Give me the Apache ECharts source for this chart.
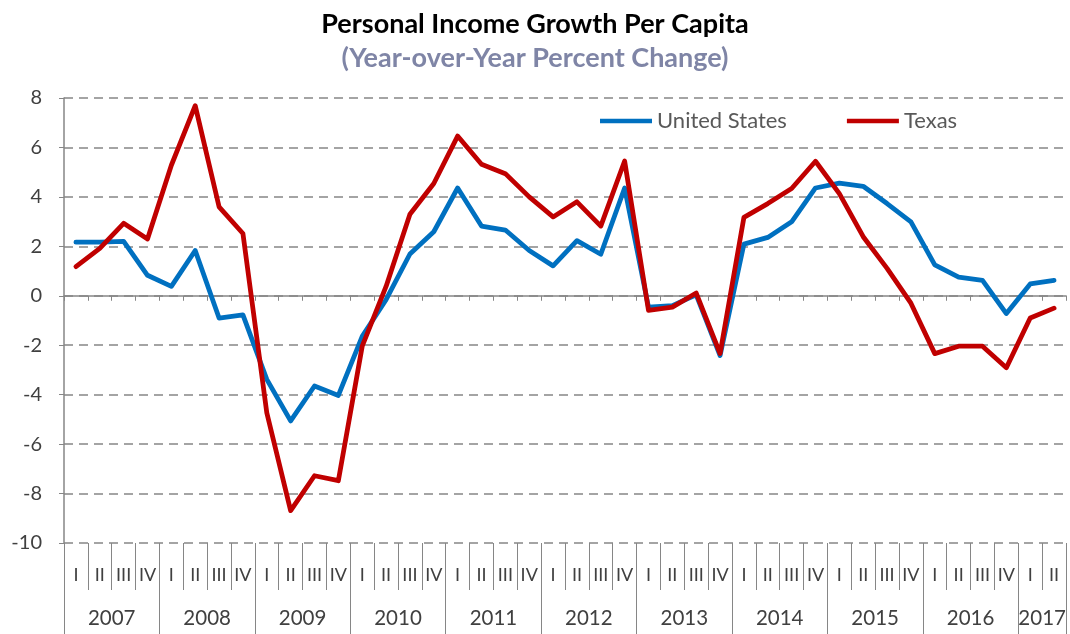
<!DOCTYPE html>
<html>
<head>
<meta charset="utf-8">
<script src="https://cdn.jsdelivr.net/npm/echarts@6/dist/echarts.min.js"></script>
<style>
  html, body { margin: 0; padding: 0; background: #fff; }
  #chart { width: 1070px; height: 634px; }
</style>
</head>
<body>
<div id="chart"></div>
<script>
// categories
const years = ['2007', '2008', '2009', '2010', '2011', '2012', '2013', '2014', '2015', '2016', '2017']
const quarterNames = ['I', 'II', 'III', 'IV']
const quarterCounts = [4, 4, 4, 4, 4, 4, 4, 4, 4, 4, 2]

// year-over-year % change, 2007 Q1 .. 2017 Q2
const unitedStates = [
  2.17, 2.17, 2.2, 0.83,
  0.38, 1.83, -0.9, -0.77,
  -3.38, -5.06, -3.65, -4.03,
  -1.64, -0.16, 1.69, 2.59,
  4.36, 2.82, 2.66, 1.83,
  1.21, 2.23, 1.68, 4.36,
  -0.46, -0.4, 0.04, -2.42,
  2.09, 2.36, 2.99, 4.36,
  4.56, 4.43, 3.73, 2.99,
  1.25, 0.75, 0.62, -0.72,
  0.48, 0.62
]
const texas = [
  1.18, 1.92, 2.93, 2.3,
  5.28, 7.69, 3.6, 2.52,
  -4.73, -8.69, -7.28, -7.48,
  -2.04, 0.38, 3.3, 4.54,
  6.46, 5.32, 4.94, 4.0,
  3.19, 3.8, 2.82, 5.45,
  -0.59, -0.46, 0.11, -2.34,
  3.17, 3.73, 4.34, 5.44,
  4.13, 2.39, 1.11, -0.3,
  -2.34, -2.04, -2.04, -2.91,
  -0.9, -0.5
]

// build quarter categories and year spans
const quarterLabels = []
const yearStarts = []
const yearMids = []
let pos = 0
quarterCounts.forEach((n) => {
  yearStarts.push(pos)
  yearMids.push(pos + n / 2)
  for (let q = 0; q < n; q++) quarterLabels.push(quarterNames[q])
  pos += n
})
yearStarts.push(pos)

const axisGray = '#868686'
const textGray = '#404040'
const font = 'Lato, "Open Sans", sans-serif'

const chart = echarts.init(document.getElementById('chart'))

const option = {
  animation: false,
  title: {
    text: 'Personal Income Growth Per Capita',
    subtext: '(Year-over-Year Percent Change)',
    left: 'center',
    top: 6,
    itemGap: 7,
    textStyle: { fontFamily: font, fontSize: 27, fontWeight: 'bold', color: '#000' },
    subtextStyle: { fontFamily: font, fontSize: 27, fontWeight: 'bold', color: '#7f85a6' }
  },
  legend: {
    top: 105,
    left: 595,
    icon: 'rect',
    itemWidth: 52,
    itemHeight: 4.5,
    itemGap: 60,
    textStyle: { fontFamily: font, fontSize: 22, color: '#595959' },
    data: ['United States', 'Texas']
  },
  grid: { left: 64, right: 4, top: 98, bottom: 91 },
  xAxis: [
    {
      type: 'category',
      data: quarterLabels,
      axisLine: { onZero: true, lineStyle: { color: axisGray, width: 1.5 } },
      axisTick: { show: true, interval: 0, length: 5, lineStyle: { color: axisGray } },
      axisLabel: { show: false },
      splitLine: { show: false }
    },
    {
      type: 'category',
      data: quarterLabels,
      position: 'bottom',
      axisLine: { show: false, onZero: false },
      axisTick: { show: true, interval: 0, length: 47, lineStyle: { color: axisGray } },
      axisLabel: { interval: 0, margin: 23, fontFamily: font, fontSize: 18, color: textGray },
      splitLine: { show: false }
    },
    {
      type: 'value',
      min: 0,
      max: quarterLabels.length,
      position: 'bottom',
      axisLine: { show: false, onZero: false },
      axisTick: { show: true, customValues: yearStarts, length: 91, lineStyle: { color: axisGray } },
      axisLabel: {
        customValues: yearMids,
        margin: 65,
        fontFamily: font,
        fontSize: 20.5,
        color: textGray,
        formatter: (v) => years[yearMids.indexOf(v)]
      },
      splitLine: { show: false }
    }
  ],
  yAxis: {
    type: 'value',
    min: -10,
    max: 8,
    interval: 2,
    axisLine: { show: true, lineStyle: { color: axisGray, width: 1.5 } },
    axisTick: { show: true, length: 5, lineStyle: { color: axisGray } },
    axisLabel: { margin: 22, fontFamily: font, fontSize: 20, color: textGray },
    splitLine: { lineStyle: { color: axisGray, type: [9, 6], width: 1.5 } }
  },
  series: [
    {
      name: 'United States',
      type: 'line',
      data: unitedStates,
      symbol: 'none',
      itemStyle: { color: '#0070c0' },
      lineStyle: { color: '#0070c0', width: 4.8, cap: 'round', join: 'round' }
    },
    {
      name: 'Texas',
      type: 'line',
      data: texas,
      symbol: 'none',
      itemStyle: { color: '#c00000' },
      lineStyle: { color: '#c00000', width: 4.8, cap: 'round', join: 'round' }
    }
  ]
}

chart.setOption(option)
</script>
</body>
</html>
